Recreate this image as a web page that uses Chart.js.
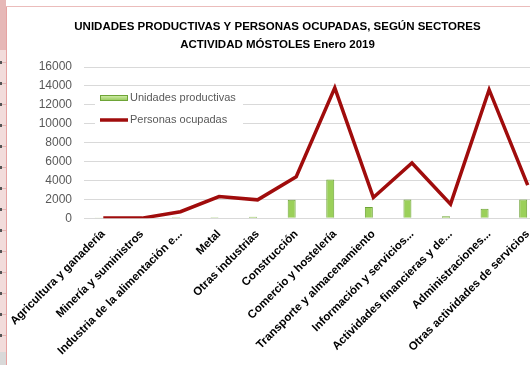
<!DOCTYPE html>
<html>
<head>
<meta charset="utf-8">
<script src="https://cdn.jsdelivr.net/npm/chart.js@4"></script>
<style>
  html, body { margin: 0; padding: 0; width: 530px; height: 365px; overflow: hidden; background: #fff; }
  /* franja de celdas de la hoja a la izquierda */
  #celdas {
    position: absolute; left: 0; top: 0; width: 6px; height: 365px;
    background: repeating-linear-gradient(to bottom, #f2dcdb 0, #f2dcdb 20px, #e3b5b4 20px, #e3b5b4 21px);
  }
  #celdas .cab { position: absolute; left: 0; top: 0; width: 6px; height: 50px; background: #e6b8b7; }
  #celdas .gris { position: absolute; left: 0; top: 352px; width: 6px; height: 13px; background: #d9d9d9; }
  #celdas .marca { position: absolute; left: 0; width: 2px; height: 3px; background: #555; }
  #bordeV { position: absolute; left: 6px; top: 6px; width: 1px; height: 359px; background: #e6a3a2; }
  #bordeH { position: absolute; left: 6px; top: 6px; width: 530px; height: 1px; background: #ebbcbb; }
  #grafico { position: absolute; left: 8px; top: 7px; width: 541px; height: 358px; }
</style>
</head>
<body>
<div id="celdas"><div class="cab"></div><div class="gris"></div></div>
<div id="bordeV"></div>
<div id="bordeH"></div>
<div id="grafico"><canvas id="sectoresChart"></canvas></div>
<script>
var sectores = [
  'Agricultura y ganadería',
  'Minería y suministros',
  'Industria de la alimentación e...',
  'Metal',
  'Otras industrias',
  'Construcción',
  'Comercio y hostelería',
  'Transporte y almacenamiento',
  'Información y servicios...',
  'Actividades financieras y de...',
  'Administraciones...',
  'Otras actividades de servicios'
];
var unidadesProductivas = [10, 5, 110, 120, 170, 1950, 4100, 1200, 2000, 220, 1000, 2000];
var personasOcupadas = [40, 20, 700, 2300, 1950, 4400, 13800, 2200, 5850, 1500, 13600, 3500];
var ejeY = { min: 0, max: 16000, paso: 2000 };
var titulo = ['UNIDADES PRODUCTIVAS Y PERSONAS OCUPADAS, SEGÚN SECTORES', 'ACTIVIDAD MÓSTOLES Enero 2019'];

var fuente = "'Liberation Sans', Arial, sans-serif";
var verde = '#9bd05a', verdeBorde = '#6ea437', rojo = '#a00c0c';

// marcas de texto cortado en las celdas
for (var y = 61; y < 350; y += 21) {
  var m = document.createElement('div');
  m.className = 'marca';
  m.style.top = y + 'px';
  document.getElementById('celdas').appendChild(m);
}

// leyenda dentro del area del grafico, con fondo blanco
var leyendaInterior = {
  id: 'leyendaInterior',
  beforeDatasetsDraw: function (chart) {
    var ctx = chart.ctx, a = chart.chartArea;
    var x = a.left + 11, y = a.top + 21;
    ctx.save();
    ctx.fillStyle = '#fff';
    ctx.fillRect(x, y, 148, 40);
    // unidades
    var g = ctx.createLinearGradient(0, y + 7, 0, y + 14);
    g.addColorStop(0, '#d7f0b0');
    g.addColorStop(1, '#86c046');
    ctx.fillStyle = g;
    ctx.fillRect(x + 5, y + 7, 28, 6);
    ctx.strokeStyle = verdeBorde;
    ctx.lineWidth = 1;
    ctx.strokeRect(x + 5.5, y + 7.5, 27, 5);
    // personas
    ctx.strokeStyle = rojo;
    ctx.lineWidth = 3.5;
    ctx.beginPath();
    ctx.moveTo(x + 5, y + 32);
    ctx.lineTo(x + 33, y + 32);
    ctx.stroke();
    ctx.fillStyle = '#595959';
    ctx.font = "11px " + fuente;
    ctx.textBaseline = 'middle';
    ctx.fillText(chart.data.datasets[1].label, x + 35, y + 10);
    ctx.fillText(chart.data.datasets[2].label, x + 35, y + 32);
    ctx.restore();
  }
};

var ctx = document.getElementById('sectoresChart').getContext('2d');
new Chart(ctx, {
  data: {
    labels: sectores,
    datasets: [
      {
        // hueco vacio para desplazar las barras a la derecha
        type: 'bar',
        label: '',
        data: sectores.map(function () { return null; }),
        categoryPercentage: 0.47,
        barPercentage: 0.88,
        order: 2
      },
      {
        type: 'bar',
        label: 'Unidades productivas',
        data: unidadesProductivas,
        backgroundColor: verde,
        borderColor: verdeBorde,
        borderWidth: 1,
        categoryPercentage: 0.47,
        barPercentage: 0.88,
        order: 1
      },
      {
        type: 'line',
        label: 'Personas ocupadas',
        data: personasOcupadas,
        borderColor: rojo,
        backgroundColor: rojo,
        borderWidth: 3.5,
        borderJoinStyle: 'miter',
        pointRadius: 0,
        tension: 0,
        fill: false,
        order: 0
      }
    ]
  },
  options: {
    responsive: true,
    maintainAspectRatio: false,
    animation: false,
    layout: { padding: { left: 0, right: 2, top: 0, bottom: 0 } },
    plugins: {
      legend: { display: false },
      tooltip: { enabled: false },
      title: {
        display: true,
        text: titulo,
        color: '#000',
        font: { family: fuente, size: 11.5, weight: 'bold', lineHeight: '18px' },
        padding: { top: 10.5, bottom: 13.5 }
      }
    },
    scales: {
      x: {
        grid: { display: false, drawTicks: false },
        border: { display: true, color: '#d9d9d9' },
        ticks: {
          autoSkip: false,
          maxRotation: 45,
          minRotation: 45,
          padding: 9,
          color: '#000',
          font: { family: fuente, size: 11.5, weight: 'bold' }
        },
        afterFit: function (scale) {
          scale.height = 146.7;
          // las etiquetas giradas pueden salirse por los lados
          scale.paddingLeft = 0;
          scale.paddingRight = 0;
        }
      },
      y: {
        min: ejeY.min,
        max: ejeY.max,
        grid: { color: '#d9d9d9', drawTicks: false },
        border: { display: false },
        ticks: {
          stepSize: ejeY.paso,
          padding: 12,
          color: '#595959',
          font: { family: fuente, size: 12 },
          callback: function (v) { return String(v); }
        },
        afterFit: function (scale) { scale.width = 76; }
      }
    }
  },
  plugins: [leyendaInterior]
});
</script>
</body>
</html>
